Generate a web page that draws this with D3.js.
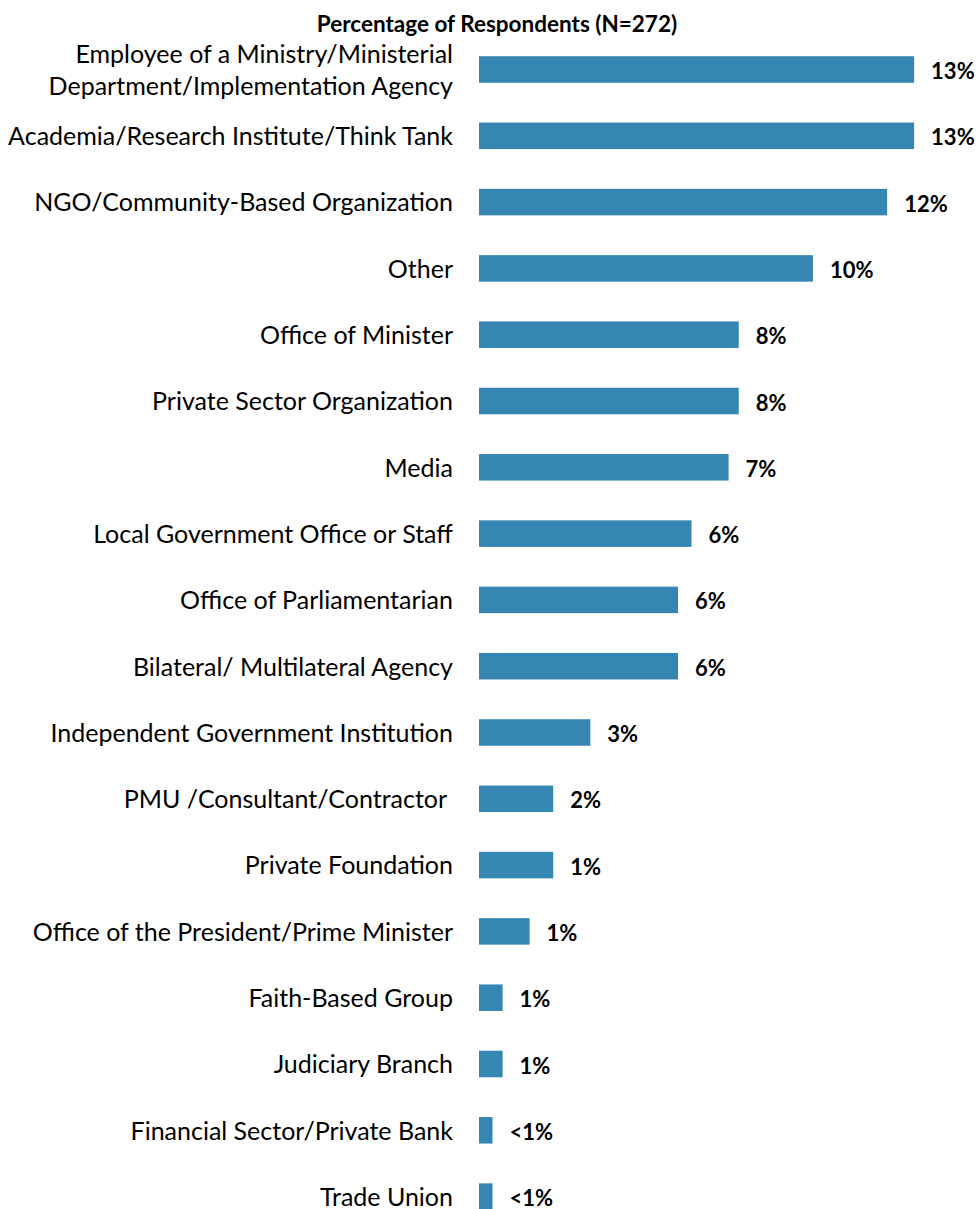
<!DOCTYPE html>
<html>
<head>
<meta charset="utf-8">
<script src="https://cdn.jsdelivr.net/npm/d3@7"></script>
<style>
  html, body { margin: 0; padding: 0; background: #fff; }
  svg { display: block; }
</style>
</head>
<body>
<svg id="chart" width="979" height="1209"></svg>
<script>
const categories = [
  ["Employee of a Ministry/Ministerial", "Department/Implementation Agency"],
  ["Academia/Research Institute/Think Tank"],
  ["NGO/Community-Based Organization"],
  ["Other"],
  ["Office of Minister"],
  ["Private Sector Organization"],
  ["Media"],
  ["Local Government Office or Staff"],
  ["Office of Parliamentarian"],
  ["Bilateral/ Multilateral Agency"],
  ["Independent Government Institution"],
  ["PMU /Consultant/Contractor "],
  ["Private Foundation"],
  ["Office of the President/Prime Minister"],
  ["Faith-Based Group"],
  ["Judiciary Branch"],
  ["Financial Sector/Private Bank"],
  ["Trade Union"]
];
const values = [12.9, 12.9, 12.1, 9.9, 7.7, 7.7, 7.4, 6.3, 5.9, 5.9, 3.3, 2.2, 2.2, 1.5, 0.7, 0.7, 0.4, 0.4];
const valueLabels = ["13%", "13%", "12%", "10%", "8%", "8%", "7%", "6%", "6%", "6%", "3%", "2%", "1%", "1%", "1%", "1%", "<1%", "<1%"];
const title = "Percentage of Respondents (N=272)";

const svg = d3.select("#chart");
const FONT = "Lato, 'Open Sans', sans-serif";
const ids = categories.map((c, i) => i);

const x = d3.scaleLinear().domain([0, 10]).range([479, 816.3]);
const y = d3.scaleBand().domain(ids).range([36.35, 1229.75]).paddingInner(0.6).paddingOuter(0.3);

svg.append("text")
  .attr("x", 497).attr("y", 32)
  .attr("text-anchor", "middle")
  .style("font-family", FONT).style("font-weight", "bold").style("font-size", "22.5px")
  .attr("fill", "#000")
  .text(title);

svg.append("g").selectAll("rect")
  .data(values)
  .join("rect")
  .attr("x", x(0))
  .attr("y", (d, i) => y(i))
  .attr("width", d => x(d) - x(0))
  .attr("height", y.bandwidth())
  .attr("fill", "#3586B2");

svg.append("g").selectAll("text")
  .data(values)
  .join("text")
  .attr("x", d => x(d) + 17)
  .attr("y", (d, i) => y(i) + y.bandwidth() / 2 + 9.5)
  .style("font-family", FONT).style("font-weight", "bold").style("font-size", "22px")
  .attr("fill", "#000")
  .text((d, i) => valueLabels[i]);

const labG = svg.append("g");
categories.forEach((lines, i) => {
  const cy = y(i) + y.bandwidth() / 2;
  const lh = 32;
  const t = labG.append("text")
    .attr("text-anchor", "end")
    .style("font-family", FONT).style("font-size", "25px")
    .style("white-space", "pre")
    .attr("xml:space", "preserve")
    .attr("fill", "#000");
  lines.forEach((ln, k) => {
    t.append("tspan")
      .attr("x", 453)
      .attr("y", cy + 9.3 + (k - (lines.length - 1) / 2) * lh)
      .text(ln);
  });
});
</script>
</body>
</html>
